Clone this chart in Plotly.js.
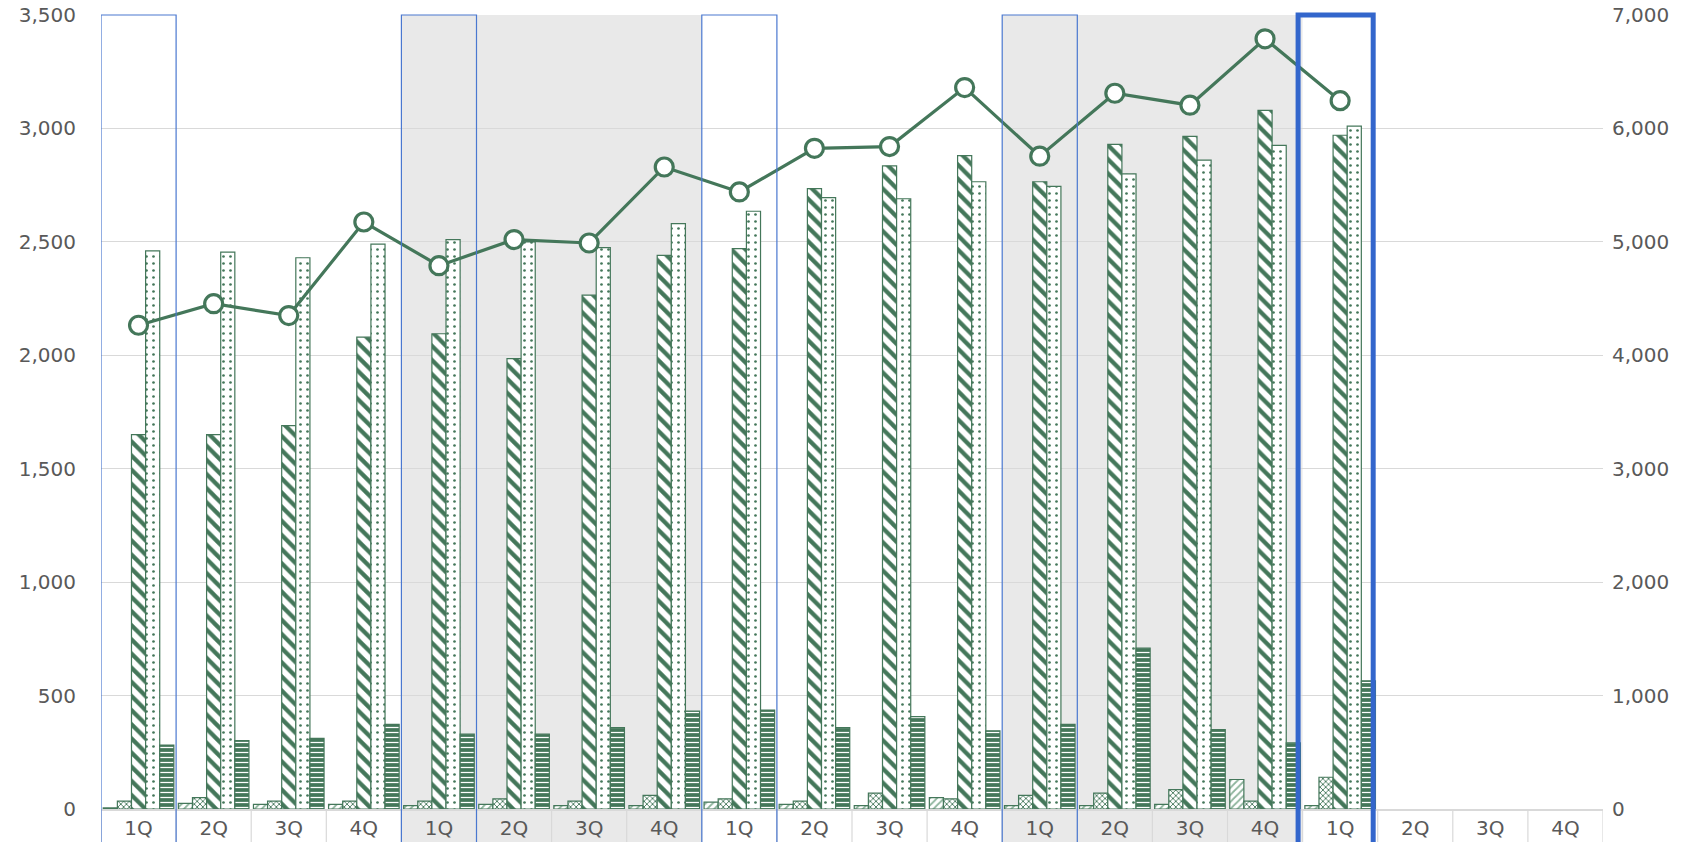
<!DOCTYPE html>
<html>
<head>
<meta charset="utf-8">
<script src="https://cdn.plot.ly/plotly-3.0.1.min.js"></script>
<style>html,body{margin:0;padding:0;background:#fff}#chart{width:1702px;height:842px}</style>
</head>
<body>
<div id="chart"></div>
<script>
// Tick labels (5 years x 4 quarters)
const tickLabels = ["1Q","2Q","3Q","4Q","1Q","2Q","3Q","4Q","1Q","2Q","3Q","4Q","1Q","2Q","3Q","4Q","1Q","2Q","3Q","4Q"];
// Series values (17 quarters with data)
const series1 = [5, 25, 20, 20, 15, 20, 15, 15, 30, 20, 15, 50, 15, 15, 20, 130, 15];
const series2 = [35, 50, 35, 35, 35, 45, 35, 60, 45, 35, 70, 45, 60, 70, 85, 35, 140];
const series3 = [1650, 1650, 1690, 2080, 2095, 1985, 2265, 2440, 2470, 2735, 2835, 2880, 2765, 2930, 2965, 3080, 2970];
const series4 = [2460, 2455, 2430, 2490, 2510, 2500, 2475, 2580, 2635, 2695, 2690, 2765, 2745, 2800, 2860, 2925, 3010];
const series5 = [282, 302, 311, 373, 330, 330, 359, 431, 436, 359, 407, 345, 373, 709, 350, 292, 565];
const lineValues = [4265, 4455, 4350, 5175, 4790, 5020, 4990, 5660, 5440, 5825, 5840, 6360, 5755, 6310, 6205, 6790, 6245];
// Highlighted periods
const shadedStarts = [4, 12];        // quarter index where shaded years start
const boxedQuarters = [0, 4, 8, 12]; // thin boxes
const currentQuarter = 16;           // thick box

const green = '#44775a';
const xs = series1.map((_, i) => i);

function barTrace(y, pattern, name) {
  return {
    type: 'bar', x: xs, y: y, name: name, yaxis: 'y',
    marker: Object.assign({line: {color: green, width: 1.2}}, pattern),
    hoverinfo: 'y'
  };
}

const traces = [
  barTrace(series1, {color: 'white', pattern: {shape: '/', fgcolor: '#8db49c', bgcolor: 'white', size: 5, solidity: 0.35}}, 's1'),
  barTrace(series2, {color: 'white', pattern: {shape: 'x', fgcolor: green, bgcolor: 'white', size: 4, solidity: 0.4}}, 's2'),
  barTrace(series3, {color: 'white', pattern: {shape: '\\', fgcolor: green, bgcolor: 'white', size: 10, solidity: 0.42}}, 's3'),
  barTrace(series4, {color: 'white', pattern: {shape: '.', fgcolor: green, bgcolor: 'white', size: 7, solidity: 0.12}}, 's4'),
  barTrace(series5, {color: green, pattern: {shape: '-', fgcolor: 'white', bgcolor: green, size: 5, solidity: 0.25}}, 's5'),
  {
    type: 'scatter', mode: 'lines+markers', x: xs, y: lineValues, yaxis: 'y2', name: 'total',
    line: {color: green, width: 3.2},
    marker: {size: 18, color: 'white', line: {color: green, width: 3.2}},
    cliponaxis: false
  }
];

const shapes = [];
shadedStarts.forEach(s => {
  shapes.push({type: 'rect', xref: 'x', yref: 'paper', x0: s - 0.5, x1: s + 3.5, y0: -0.06, y1: 1,
    fillcolor: '#e9e9e9', line: {width: 0}, layer: 'below'});
});
for (let k = 0; k <= tickLabels.length; k++) {
  shapes.push({type: 'line', xref: 'x', yref: 'paper', x0: k - 0.5, x1: k - 0.5, y0: 0, y1: -0.06,
    line: {color: '#d9d9d9', width: 1.2}, layer: 'below'});
}
boxedQuarters.forEach(q => {
  shapes.push({type: 'rect', xref: 'x', yref: 'paper', x0: q - 0.5, x1: q + 0.5, y0: -0.06, y1: 1,
    fillcolor: 'rgba(0,0,0,0)', line: {color: '#4a78d0', width: 1.2}, layer: 'above'});
});
shapes.push({type: 'rect', xref: 'x', yref: 'paper', x0: currentQuarter - 0.56, x1: currentQuarter + 0.44, y0: -0.06, y1: 1,
  fillcolor: 'rgba(0,0,0,0)', line: {color: '#3366cc', width: 5}, layer: 'above'});

const font = {family: 'DejaVu Sans, Verdana, sans-serif', size: 20, color: '#595959'};

const layout = {
  width: 1702, height: 842,
  margin: {l: 101, r: 99, t: 15, b: 33, pad: 0},
  paper_bgcolor: 'white', plot_bgcolor: 'rgba(0,0,0,0)',
  font: font,
  showlegend: false,
  barmode: 'group', bargap: 0.06, bargroupgap: 0,
  xaxis: {
    range: [-0.5, tickLabels.length - 0.5],
    tickmode: 'array', tickvals: tickLabels.map((_, i) => i), ticktext: tickLabels,
    showgrid: false, zeroline: false, showline: true, linecolor: '#d9d9d9', linewidth: 1.5,
    ticks: '', tickfont: font, ticklabelstandoff: 0
  },
  yaxis: {
    range: [0, 3500], dtick: 500, tickformat: ',d',
    showgrid: true, gridcolor: '#d9d9d9', gridwidth: 1.2, zeroline: false, showline: false,
    ticks: '', tickfont: font, ticklabelstandoff: 24
  },
  yaxis2: {
    range: [0, 7000], dtick: 1000, tickformat: ',d', overlaying: 'y', side: 'right',
    showgrid: false, zeroline: false, showline: false,
    ticks: '', tickfont: font, ticklabelstandoff: 8
  },
  shapes: shapes
};

Plotly.newPlot('chart', traces, layout, {displayModeBar: false, staticPlot: true});
</script>
</body>
</html>
